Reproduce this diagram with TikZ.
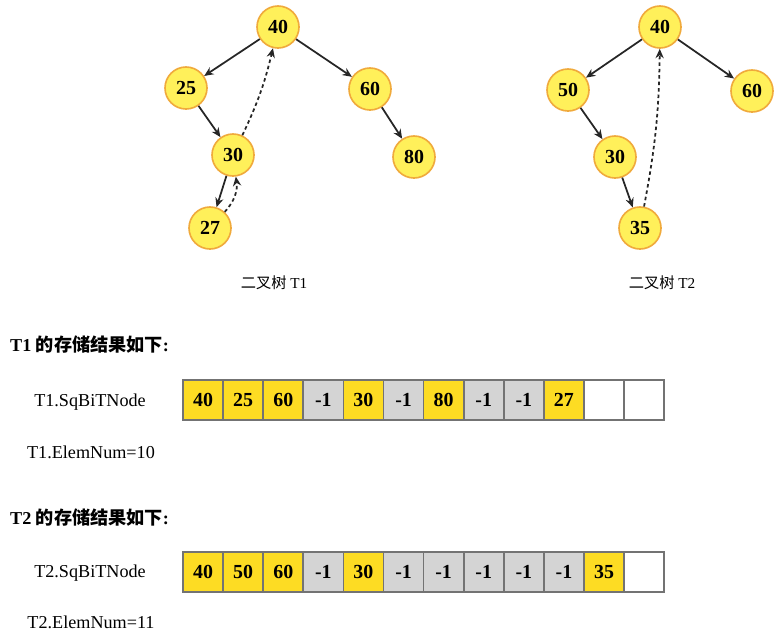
\documentclass[tikz,border=0pt]{standalone}
\usepackage{fontspec}
\setmainfont{Liberation Serif}
\newfontfamily\cjk{Noto Sans CJK SC}
\usepackage{xcolor}
\usetikzlibrary{arrows.meta}

\definecolor{vtxfill}{RGB}{255,240,90}
\definecolor{vtxline}{RGB}{240,170,60}
\definecolor{cellyel}{RGB}{253,220,35}
\definecolor{cellgray}{RGB}{212,212,212}
\definecolor{cellline}{RGB}{115,115,115}

\begin{document}
\begin{tikzpicture}[x=0.03cm, y=-0.03cm, every node/.style={font=\fontsize{15.5}{18}\selectfont}, vtx/.style={circle,draw=vtxline,fill=vtxfill,line width=1.4pt,minimum size=1.26cm,inner sep=0pt,font=\fontsize{17}{20}\selectfont\bfseries}, arr/.style={-{Stealth[length=8pt,width=7pt]},line width=1.5pt,draw=black!85}, thr/.style={arr,dash pattern=on 3pt off 2.5pt}, cell/.style={draw=cellline,line width=1.4pt,minimum width=1.203cm,minimum height=1.2cm,inner sep=0pt,font=\fontsize{17}{20}\selectfont\bfseries}, yc/.style={cell,fill=cellyel}, gc/.style={cell,fill=cellgray}, wc/.style={cell,fill=white}, hd/.style={anchor=west,font=\fontsize{15.5}{18}\selectfont\bfseries}, treecap/.style={font=\fontsize{13}{16}\selectfont}]
\useasboundingbox (0,0) rectangle (777,641);
% tree T1
\node[vtx] (a40) at (278,27) {40};
\node[vtx] (a25) at (186,88) {25};
\node[vtx] (a60) at (370,89) {60};
\node[vtx] (a30) at (233,155) {30};
\node[vtx] (a80) at (414,157) {80};
\node[vtx] (a27) at (210,228) {27};
\draw[arr] (a40)--(a25);
\draw[arr] (a40)--(a60);
\draw[arr] (a25)--(a30);
\draw[arr] (a60)--(a80);
\draw[arr] (a30)--(a27);
\draw[thr] (a30) to[bend right=6] (a40);
\draw[thr] (a27) to[bend right=25] (a30);
\node[treecap] (capa) at (274,283) {{\cjk 二叉树} T1};
% tree T2
\node[vtx] (b40) at (660,27) {40};
\node[vtx] (b50) at (568,90) {50};
\node[vtx] (b60) at (752,91) {60};
\node[vtx] (b30) at (615,157) {30};
\node[vtx] (b35) at (640,228) {35};
\draw[arr] (b40)--(b50);
\draw[arr] (b40)--(b60);
\draw[arr] (b50)--(b30);
\draw[arr] (b30)--(b35);
\draw[thr] (b35) to[bend right=5] (b40);
\node[treecap] (capb) at (662,283) {{\cjk 二叉树} T2};
% storage of T1
\node[hd] (hda) at (6,345) {T1 {\cjk 的存储结果如下}:};
\node (sqa) at (90,402) {T1.SqBiTNode};
\foreach \c/\v [count=\i] in {yc/40,yc/25,yc/60,gc/-1,yc/30,gc/-1,yc/80,gc/-1,gc/-1,yc/27,wc/{},wc/{}}
  \node[\c] (ca\i) at ({162.95+40.1*\i},400) {\v};
\node (ena) at (91,452) {T1.ElemNum=10};
% storage of T2
\node[hd] (hdb) at (6,518) {T2 {\cjk 的存储结果如下}:};
\node (sqb) at (90,573) {T2.SqBiTNode};
\foreach \c/\v [count=\i] in {yc/40,yc/50,yc/60,gc/-1,yc/30,gc/-1,gc/-1,gc/-1,gc/-1,gc/-1,yc/35,wc/{}}
  \node[\c] (cb\i) at ({162.95+40.1*\i},572) {\v};
\node (enb) at (91,622) {T2.ElemNum=11};
\end{tikzpicture}
\end{document}
